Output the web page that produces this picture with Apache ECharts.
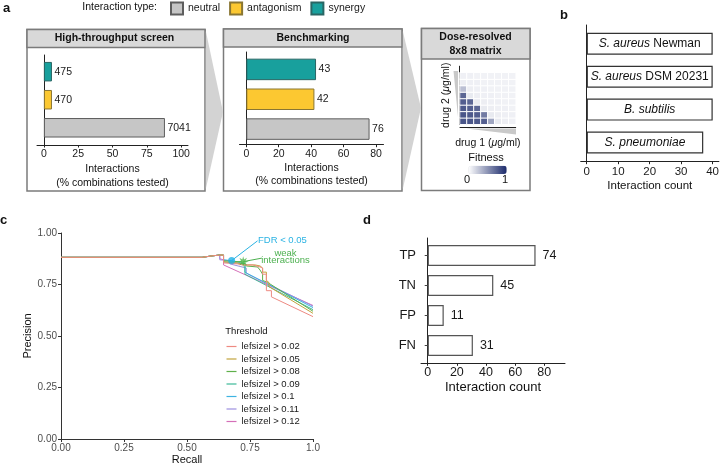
<!DOCTYPE html>
<html><head><meta charset="utf-8">
<script src="https://cdn.jsdelivr.net/npm/echarts@6/dist/echarts.min.js"></script>
<style>html,body{margin:0;padding:0;background:#fff}#c{width:722px;height:471px}</style>
</head><body><div id="c"></div>
<script>
const FONT = "'Liberation Sans', Arial, Helvetica, sans-serif";

// ---------- panel a ----------
const typeNames = ['neutral', 'antagonism', 'synergy'];            // bottom -> top
const typeColors = ['#c6c6c6', '#fcc831', '#18a09d'];
const typeBorders = ['#5e5e5e', '#8a7632', '#2a6664'];
const htsPercent = [88.2, 5.9, 5.9];
const htsCounts = [7041, 470, 475];
const benchPercent = [76, 42, 43];
const benchCounts = [76, 42, 43];
const htsTicks = [0, 25, 50, 75, 100];
const benchTicks = [0, 20, 40, 60, 80];

// dose matrix (rows bottom -> top, columns left -> right)
const doseCols = ['1', '2', '3', '4', '5', '6', '7', '8'];
const doseRows = ['1', '2', '3', '4', '5', '6', '7', '8', ''];
const fitnessMatrix = [
  [0.80, 0.80, 0.78, 0.75, 0.42, 0.10, 0.08, 0.07],
  [0.80, 0.78, 0.76, 0.62, 0.10, 0.08, 0.07, 0.07],
  [0.78, 0.76, 0.72, 0.10, 0.08, 0.07, 0.07, 0.06],
  [0.76, 0.72, 0.10, 0.08, 0.07, 0.07, 0.06, 0.06],
  [0.72, 0.10, 0.08, 0.07, 0.07, 0.06, 0.06, 0.06],
  [0.30, 0.08, 0.07, 0.07, 0.06, 0.06, 0.06, 0.06],
  [0.08, 0.07, 0.07, 0.06, 0.06, 0.06, 0.06, 0.06],
  [0.07, 0.07, 0.06, 0.06, 0.06, 0.06, 0.06, 0.06]
];

// ---------- panel b ----------
const speciesItalic = ['S. pneumoniae', 'B. subtilis', 'S. aureus', 'S. aureus'];   // bottom -> top
const speciesStrain = ['', '', 'DSM 20231', 'Newman'];
const speciesCounts = [37, 40, 40, 40];
const speciesTicks = [0, 10, 20, 30, 40];

// ---------- panel c ----------
const thresholdNames = ['lefsizel > 0.02', 'lefsizel > 0.05', 'lefsizel > 0.08', 'lefsizel > 0.09',
  'lefsizel > 0.1', 'lefsizel > 0.11', 'lefsizel > 0.12'];
const thresholdColors = ['#ee8a82', '#c2a43c', '#5fb04a', '#3dba98', '#3eb3e2', '#9d90e0', '#d46fb8'];
const pr002 = [[0, 0.882], [0.56, 0.882], [0.6, 0.889], [0.63, 0.893], [0.645, 0.893], [0.645, 0.855], [0.70, 0.85], [0.72, 0.845], [0.76, 0.845], [0.79, 0.835], [0.80, 0.83], [0.80, 0.80], [0.815, 0.80], [0.815, 0.72], [0.835, 0.72], [0.835, 0.69], [1.0, 0.594]];
const pr005 = [[0, 0.882], [0.56, 0.882], [0.6, 0.889], [0.63, 0.893], [0.645, 0.893], [0.645, 0.86], [0.70, 0.855], [0.73, 0.845], [0.77, 0.845], [0.79, 0.84], [0.80, 0.83], [0.80, 0.81], [0.815, 0.81], [0.815, 0.77], [0.825, 0.76], [0.825, 0.74], [1.0, 0.61]];
const pr008 = [[0, 0.882], [0.56, 0.882], [0.6, 0.889], [0.63, 0.893], [0.645, 0.893], [0.645, 0.865], [0.72, 0.86], [0.735, 0.84], [0.78, 0.835], [0.79, 0.82], [0.80, 0.80], [0.80, 0.77], [0.82, 0.76], [1.0, 0.62]];
const pr009 = [[0, 0.882], [0.56, 0.882], [0.6, 0.889], [0.63, 0.893], [0.645, 0.893], [0.645, 0.86], [0.69, 0.855], [0.73, 0.85], [0.73, 0.80], [0.745, 0.79], [1.0, 0.628]];
const pr010 = [[0, 0.882], [0.56, 0.882], [0.6, 0.889], [0.63, 0.893], [0.645, 0.893], [0.645, 0.87], [0.675, 0.866], [0.73, 0.85], [0.73, 0.81], [0.745, 0.80], [1.0, 0.638]];
const pr011 = [[0, 0.882], [0.56, 0.882], [0.6, 0.889], [0.63, 0.893], [0.63, 0.87], [0.67, 0.865], [0.67, 0.85], [0.735, 0.83], [0.735, 0.805], [0.75, 0.795], [1.0, 0.645]];
const pr012 = [[0, 0.882], [0.56, 0.882], [0.6, 0.889], [0.63, 0.893], [0.63, 0.875], [0.645, 0.87], [0.645, 0.845], [1.0, 0.648]];
const prCurves = [pr002, pr005, pr008, pr009, pr010, pr011, pr012];
const fdrPoint = [0.677, 0.866];
const fdrLabelAnchor = [0.78, 0.962];
const weakPoint = [0.723, 0.861];
const weakLabelAnchor = [0.797, 0.878];

// ---------- panel d ----------
const confCategories = ['FN', 'FP', 'TN', 'TP'];   // bottom -> top
const confCounts = [31, 11, 45, 74];
const confTicks = [0, 20, 40, 60, 80];

// ---------- helpers ----------
const AX = '#222';
function frameX(g, min, max, ticks, name, nameGap, fs, margin) {
  return {
    type: 'value', gridIndex: g, min: min, max: max,
    axisLine: { show: true, lineStyle: { color: AX, width: 1 } },
    axisTick: { show: true, length: 2.5, customValues: ticks, lineStyle: { color: AX } },
    axisLabel: { show: true, customValues: ticks, margin: margin, fontSize: fs, color: '#1a1a1a', fontFamily: FONT },
    splitLine: { show: false },
    name: name, nameLocation: 'middle', nameGap: nameGap,
    nameTextStyle: { fontSize: fs, color: '#111', fontFamily: FONT, lineHeight: 13.5 }
  };
}
function frameY(g) {
  return { type: 'value', gridIndex: g, min: 0, max: 1,
    axisLine: { show: true, lineStyle: { color: AX, width: 1 } },
    axisTick: { show: false }, axisLabel: { show: false }, splitLine: { show: false } };
}
function hiddenX(g, min, max) { return { type: 'value', gridIndex: g, min: min, max: max, show: false }; }
function hiddenCat(g, data) { return { type: 'category', gridIndex: g, data: data, show: false }; }

const grids = [
  { left: 37, top: 55, width: 151, height: 90 },          // 0 a1 frame
  { left: 37, top: 57.65, width: 151, height: 84.15 },    // 1 a1 bars
  { left: 239.5, top: 52, width: 144, height: 92.7 },     // 2 a2 frame
  { left: 239.5, top: 54.5, width: 144, height: 89.5 },   // 3 a2 bars
  { left: 460, top: 66.2, width: 55.7, height: 58.1 },    // 4 heatmap
  { left: 580.7, top: 25, width: 138.3, height: 136.7 },  // 5 b frame
  { left: 580.7, top: 27.35, width: 138.3, height: 131.6 },// 6 b bars
  { left: 61, top: 233, width: 252, height: 206 },        // 7 c
  { left: 421, top: 238, width: 144, height: 125.3 },     // 8 d frame
  { left: 421, top: 240.5, width: 144, height: 120 }      // 9 d bars
];

const xAxes = [
  frameX(0, -5, 105, htsTicks, 'Interactions\n(% combinations tested)', 17.5, 10.5, 3.5),
  hiddenX(1, -5, 105),
  frameX(2, -4.2, 84.6, benchTicks, 'Interactions\n(% combinations tested)', 16.5, 10.5, 3.5),
  hiddenX(3, -4.2, 84.6),
  { type: 'category', gridIndex: 4, data: doseCols, offset: 2.5,
    axisLine: { show: true, lineStyle: { color: AX, width: 1 } }, axisTick: { show: false }, axisLabel: { show: false },
    splitLine: { show: false },
    name: 'drug 1 ({i|μ}g/ml)', nameLocation: 'middle', nameGap: 11,
    nameTextStyle: { fontSize: 10.5, color: '#111', fontFamily: FONT, rich: { i: { fontStyle: 'italic', fontSize: 10.5, fontFamily: FONT, color: '#111' } } } },
  frameX(5, -1.9, 42, speciesTicks, 'Interaction count', 16, 11.5, 4.5),
  hiddenX(6, -1.9, 42),
  { type: 'value', gridIndex: 7, min: 0, max: 1, interval: 0.25,
    axisLine: { show: true, lineStyle: { color: '#333', width: 1 } },
    axisTick: { show: true, length: 3, lineStyle: { color: '#333' } },
    axisLabel: { margin: 4, fontSize: 10, color: '#4d4d4d', fontFamily: FONT, formatter: v => v === 1 ? '1.0' : v.toFixed(2) },
    splitLine: { show: false },
    name: 'Recall', nameLocation: 'middle', nameGap: 15, nameTextStyle: { fontSize: 11, color: '#111', fontFamily: FONT } },
  frameX(8, -4.6, 94.2, confTicks, 'Interaction count', 16, 12.5, 3),
  hiddenX(9, -4.6, 94.2)
];
xAxes[8].nameTextStyle.fontSize = 13;

const yAxes = [
  frameY(0),
  hiddenCat(1, typeNames),
  frameY(2),
  hiddenCat(3, typeNames),
  { type: 'category', gridIndex: 4, data: doseRows, offset: 1,
    axisLine: { show: true, lineStyle: { color: AX, width: 1 } }, axisTick: { show: false }, axisLabel: { show: false },
    splitLine: { show: false },
    name: 'drug 2 ({i|μ}g/ml)', nameLocation: 'middle', nameGap: 7,
    nameTextStyle: { fontSize: 10.5, color: '#111', fontFamily: FONT, rich: { i: { fontStyle: 'italic', fontSize: 10.5, fontFamily: FONT, color: '#111' } } } },
  frameY(5),
  hiddenCat(6, speciesItalic.map((s, i) => s + ' ' + speciesStrain[i])),
  { type: 'value', gridIndex: 7, min: 0, max: 1, interval: 0.25,
    axisLine: { show: true, lineStyle: { color: '#333', width: 1 } },
    axisTick: { show: true, length: 3, lineStyle: { color: '#333' } },
    axisLabel: { margin: 4, fontSize: 10, color: '#4d4d4d', fontFamily: FONT, formatter: v => v.toFixed(2) },
    splitLine: { show: false },
    name: 'Precision', nameLocation: 'middle', nameGap: 27, nameTextStyle: { fontSize: 11, color: '#111', fontFamily: FONT } },
  frameY(8),
  { type: 'category', gridIndex: 9, data: confCategories,
    axisLine: { show: false }, axisTick: { show: true, length: 3, alignWithLabel: true, lineStyle: { color: '#444' } },
    axisLabel: { margin: 5, fontSize: 13, color: '#1a1a1a', fontFamily: FONT }, splitLine: { show: false } }
];

const series = [];
// a1 / a2 bars, one series per interaction type
function typeBars(xi, yi, values, counts, barW, stack) {
  typeNames.forEach((n, i) => {
    series.push({
      type: 'bar', name: n, xAxisIndex: xi, yAxisIndex: yi, stack: stack, barWidth: barW,
      data: typeNames.map((_, j) => j === i ? values[j] : '-'),
      itemStyle: { color: typeColors[i], borderColor: typeBorders[i], borderWidth: 1 },
      label: { show: true, position: 'right', distance: 2.5, fontSize: 10.5, color: '#1a1a1a', fontFamily: FONT,
        formatter: p => String(counts[p.dataIndex]) },
      silent: true
    });
  });
}
typeBars(1, 1, htsPercent, htsCounts, 19.5, 'a1');
typeBars(3, 3, benchPercent, benchCounts, 21.5, 'a2');

// heatmap
const heatData = [];
fitnessMatrix.forEach((row, r) => row.forEach((v, c) => heatData.push([c, r, v])));
series.push({ type: 'heatmap', xAxisIndex: 4, yAxisIndex: 4, data: heatData, silent: true,
  itemStyle: { borderColor: '#ffffff', borderWidth: 1 } });

// b bars
series.push({ type: 'bar', name: 'species', xAxisIndex: 6, yAxisIndex: 6, barWidth: 22, data: speciesCounts, silent: true,
  itemStyle: { color: '#ffffff', borderColor: '#333', borderWidth: 1.2 },
  label: { show: true, position: 'inside', fontSize: 12, color: '#111', fontFamily: FONT,
    formatter: p => '{i|' + speciesItalic[p.dataIndex] + '}' + (speciesStrain[p.dataIndex] ? ' ' + speciesStrain[p.dataIndex] : ''),
    rich: { i: { fontStyle: 'italic', fontSize: 12, color: '#111', fontFamily: FONT } } } });

// c lines
prCurves.forEach((d, i) => {
  series.push({ type: 'line', name: thresholdNames[i], xAxisIndex: 7, yAxisIndex: 7, data: d, symbol: 'none',
    lineStyle: { color: thresholdColors[i], width: 1 }, itemStyle: { color: thresholdColors[i] }, silent: true, z: 3 + (6 - i) * 0.01 });
});
// leader lines
series.push({ type: 'line', name: 'fdrLeader', xAxisIndex: 7, yAxisIndex: 7, data: [fdrPoint, fdrLabelAnchor], symbol: 'none',
  lineStyle: { color: '#2bb3e3', width: 1 }, silent: true, z: 4 });
series.push({ type: 'line', name: 'weakLeader', xAxisIndex: 7, yAxisIndex: 7, data: [weakPoint, weakLabelAnchor], symbol: 'none',
  lineStyle: { color: '#4cb04f', width: 1 }, silent: true, z: 4 });
series.push({ type: 'scatter', name: 'fdr', xAxisIndex: 7, yAxisIndex: 7, data: [fdrPoint], symbol: 'circle', symbolSize: 7,
  itemStyle: { color: '#22b2e6' }, silent: true, z: 5 });
series.push({ type: 'scatter', name: 'weak', xAxisIndex: 7, yAxisIndex: 7, data: [weakPoint], symbolSize: 11,
  symbol: 'path://M50,0 L58,30 L85,15 L70,42 L100,50 L70,58 L85,85 L58,70 L50,100 L42,70 L15,85 L30,58 L0,50 L30,42 L15,15 L42,30 Z',
  itemStyle: { color: '#4db54b' }, silent: true, z: 5 });

// d bars
series.push({ type: 'bar', name: 'confusion', xAxisIndex: 9, yAxisIndex: 9, barWidth: 21, data: confCounts, silent: true,
  itemStyle: { color: '#ffffff', borderColor: '#555', borderWidth: 1.2 },
  label: { show: true, position: 'right', distance: 7, fontSize: 12.5, color: '#1a1a1a', fontFamily: FONT } });

const heatIndex = series.findIndex(s => s.type === 'heatmap');

function txt(x, y, text, o) {
  o = o || {};
  return { type: 'text', z: 50, silent: true, style: Object.assign({ text: text, x: x, y: y, fill: '#111', fontSize: 10.5,
    fontFamily: FONT, align: 'center', verticalAlign: 'middle', textAlign: 'center', textVerticalAlign: 'middle' }, o) };
}
function rect(x, y, w, h, fill) {
  return { type: 'rect', z: -5, silent: true, shape: { x: x, y: y, width: w, height: h }, style: { fill: fill, stroke: '#7b7b7b', lineWidth: 1.5 } };
}
function poly(pts, fill) { return { type: 'polygon', z: -4, silent: true, shape: { points: pts }, style: { fill: fill } }; }

const graphics = [
  rect(27, 29.5, 178, 161.5, '#fff'), rect(27, 29.5, 178, 18, '#d9d9d9'),
  rect(223.5, 29, 178.5, 162, '#fff'), rect(223.5, 29, 178.5, 18, '#d9d9d9'),
  rect(421.5, 28.5, 108.5, 162, '#fff'), rect(421.5, 28.5, 108.5, 30.5, '#d9d9d9'),
  poly([[205.8, 31], [223, 112], [205.8, 189]], '#d3d3d3'),
  poly([[402.8, 31], [421, 108], [402.8, 189]], '#d3d3d3'),
  poly([[453.5, 71], [458, 71], [458, 117]], '#c9c9c9'),
  poly([[466, 128.5], [516, 128.5], [516, 134.5]], '#c9c9c9'),
  txt(6.5, 8, 'a', { fontWeight: 'bold', fontSize: 13 }),
  txt(564, 15, 'b', { fontWeight: 'bold', fontSize: 13 }),
  txt(3.5, 220.5, 'c', { fontWeight: 'bold', fontSize: 13 }),
  txt(367, 220, 'd', { fontWeight: 'bold', fontSize: 13 }),
  txt(157, 7.5, 'Interaction type:', { align: 'right', textAlign: 'right' }),
  txt(114.5, 38.5, 'High-throughput screen', { fontWeight: 'bold' }),
  txt(313, 38.3, 'Benchmarking', { fontWeight: 'bold' }),
  txt(475.5, 36.7, 'Dose-resolved', { fontWeight: 'bold' }),
  txt(475.5, 50.7, '8x8 matrix', { fontWeight: 'bold' }),
  txt(486, 158.3, 'Fitness', { fontSize: 11 }),
  txt(467, 180, '0', { fontSize: 11 }),
  txt(505, 180, '1', { fontSize: 11 }),
  txt(258, 240.5, 'FDR < 0.05', { fontSize: 9.5, fill: '#2bb3e3', align: 'left', textAlign: 'left' }),
  txt(285.5, 253.3, 'weak', { fontSize: 9.5, fill: '#4cb04f' }),
  txt(285.5, 260.7, 'interactions', { fontSize: 9.5, fill: '#4cb04f' }),
  txt(225.3, 331.7, 'Threshold', { fontSize: 9.5, align: 'left', textAlign: 'left' })
];

const chart = echarts.init(document.getElementById('c'), null, { renderer: 'canvas' });
chart.setOption({
  animation: false,
  backgroundColor: '#ffffff',
  textStyle: { fontFamily: FONT, color: '#111' },
  grid: grids,
  xAxis: xAxes,
  yAxis: yAxes,
  legend: [
    { data: typeNames, left: 170, top: 1.5, padding: 0, orient: 'horizontal', icon: 'rect', itemWidth: 12, itemHeight: 12,
      itemGap: 9, selectedMode: false, textStyle: { fontSize: 10.5, color: '#1a1a1a', fontFamily: FONT } },
    { data: thresholdNames, left: 226.5, top: 340.5, padding: 0, orient: 'vertical', icon: 'rect', itemWidth: 10, itemHeight: 1.2,
      itemGap: 0.5, selectedMode: false,
      textStyle: { fontSize: 9.5, lineHeight: 12, height: 12, color: '#1a1a1a', fontFamily: FONT } }
  ],
  visualMap: [{ type: 'continuous', min: 0, max: 1, seriesIndex: heatIndex, orient: 'horizontal', left: 468.3, top: 165.7,
    itemWidth: 8.3, itemHeight: 38.4, padding: 0, calculable: false, hoverLink: false, text: null,
    inRange: { color: ['#ffffff', '#1b2a6b'] } }],
  graphic: graphics,
  series: series
});
</script>
</body></html>
